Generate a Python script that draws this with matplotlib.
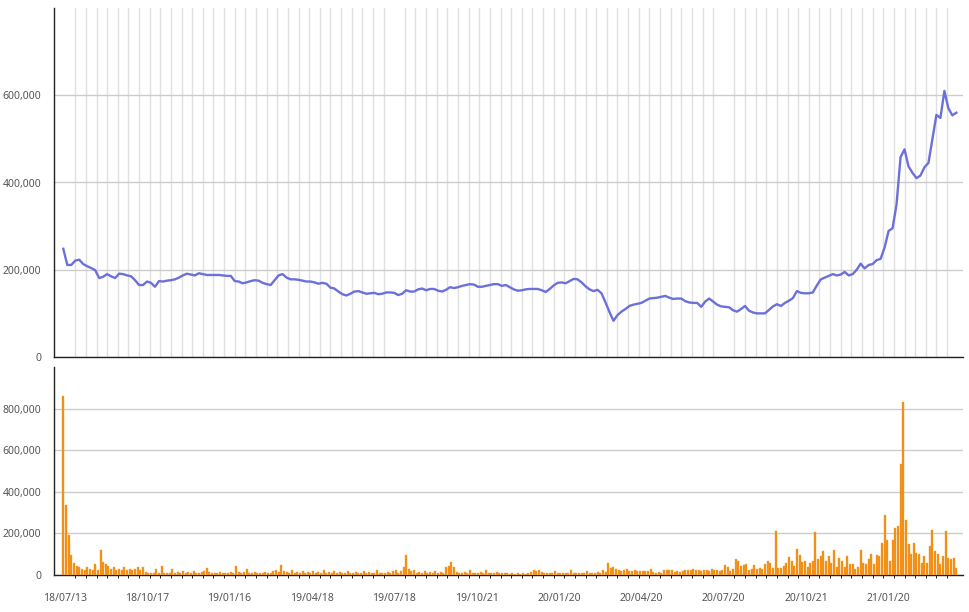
import numpy as np
import matplotlib
matplotlib.use("Agg")
import matplotlib.pyplot as plt
from matplotlib.ticker import FuncFormatter

plt.rcParams['font.family'] = ['Noto Sans', 'DejaVu Sans']

# trading days shown (index on a category axis)
n_days = 673

# closing price, every 3rd trading day (thousands)
price = [248, 211, 211, 221, 223, 213, 208, 204, 199, 181,
         184, 190, 185, 181, 191, 190, 187, 185, 176, 165,
         165, 173, 170, 161, 174, 173, 175, 176, 178, 182,
         187, 191, 189, 187, 192, 190, 188, 188, 188, 188,
         187, 186, 186, 174, 173, 169, 171, 174, 176, 175,
         170, 167, 165, 176, 187, 190, 182, 178, 178, 177,
         175, 173, 173, 171, 168, 170, 168, 159, 157, 150,
         144, 141, 145, 150, 151, 148, 145, 146, 147, 144,
         145, 148, 148, 147, 142, 145, 153, 150, 150, 155,
         157, 153, 156, 156, 152, 150, 154, 160, 158, 160,
         163, 165, 167, 166, 161, 161, 163, 165, 167, 167,
         163, 165, 160, 155, 152, 153, 155, 156, 156, 156,
         153, 149, 156, 164, 170, 171, 169, 174, 179, 178,
         171, 162, 155, 151, 154, 146, 125, 103, 83, 96,
         104, 110, 117, 120, 122, 124, 129, 134, 135, 136,
         138, 140, 136, 133, 134, 134, 128, 125, 124, 124,
         115, 127, 134, 127, 120, 116, 115, 114, 107, 104,
         110, 117, 106, 102, 100, 100, 100, 108, 116, 121,
         117, 124, 129, 135, 151, 147, 146, 146, 148, 164,
         178, 182, 186, 190, 187, 189, 195, 187, 190, 200,
         214, 203, 211, 213, 222, 225, 251, 289, 295, 350,
         458, 476, 437, 422, 410, 416, 435, 445, 500, 555,
         548, 610, 570, 554, 560]

# volume, every 2nd trading day (thousands)
volume = [860, 337, 193, 96, 60, 45, 40, 30, 24, 37,
          30, 24, 53, 24, 120, 62, 53, 45, 30, 37,
          24, 30, 24, 37, 22, 30, 24, 30, 37, 22,
          37, 15, 10, 12, 10, 28, 12, 43, 10, 12,
          10, 28, 10, 15, 10, 20, 10, 15, 10, 20,
          12, 10, 15, 20, 33, 15, 10, 12, 10, 15,
          10, 12, 10, 15, 12, 43, 15, 12, 15, 28,
          12, 10, 15, 10, 12, 10, 15, 10, 12, 20,
          24, 15, 50, 20, 15, 12, 22, 12, 15, 10,
          20, 12, 15, 10, 20, 12, 15, 10, 22, 12,
          15, 10, 20, 12, 15, 10, 12, 20, 12, 10,
          15, 10, 12, 20, 10, 15, 12, 10, 22, 10,
          12, 10, 15, 12, 20, 25, 12, 20, 37, 96,
          30, 20, 25, 12, 15, 10, 20, 12, 15, 10,
          20, 12, 15, 12, 40, 43, 61, 40, 15, 12,
          10, 15, 12, 22, 10, 12, 10, 15, 12, 24,
          10, 12, 10, 15, 10, 12, 10, 8, 6, 8,
          5, 8, 6, 8, 5, 10, 15, 22, 18, 22,
          15, 10, 12, 8, 10, 20, 10, 12, 8, 10,
          12, 25, 10, 12, 10, 8, 12, 20, 10, 12,
          10, 15, 12, 22, 15, 60, 35, 40, 30, 22,
          20, 25, 30, 20, 18, 22, 17, 20, 17, 20,
          17, 30, 15, 12, 15, 12, 22, 25, 22, 25,
          15, 18, 15, 20, 25, 22, 25, 30, 22, 25,
          20, 25, 25, 20, 30, 22, 22, 18, 25, 50,
          40, 20, 30, 79, 67, 43, 50, 51, 25, 27,
          48, 27, 35, 27, 51, 67, 59, 35, 212, 35,
          35, 43, 59, 87, 67, 43, 127, 96, 64, 67,
          40, 59, 67, 207, 75, 92, 116, 67, 92, 59,
          119, 40, 84, 67, 40, 92, 51, 51, 30, 40,
          119, 59, 51, 75, 100, 51, 96, 92, 156, 287,
          167, 67, 167, 228, 236, 533, 830, 263, 148, 100,
          156, 108, 100, 59, 92, 59, 140, 215, 116, 100,
          55, 92, 212, 84, 75, 84, 35]

date_labels = ['18/07/13', '18/10/17', '19/01/16', '19/04/18', '19/07/18', '19/10/21',
               '20/01/20', '20/04/20', '20/07/20', '20/10/21', '21/01/20']

price_x = np.arange(0, n_days, 3)
volume_x = np.arange(0, n_days, 2)
price_v = np.array(price) * 1000
volume_v = np.array(volume) * 1000

fig = plt.figure(figsize=(9.69, 6.12), dpi=100)
ax1 = fig.add_axes([54 / 969, 1 - 357 / 612, 909 / 969, 349 / 612])
ax2 = fig.add_axes([54 / 969, 1 - 575 / 612, 909 / 969, 208 / 612], sharex=ax1)

fmt = FuncFormatter(lambda v, p: f'{int(v):,}')

# price panel
ax1.plot(price_x, price_v, color='#6c70d9', linewidth=1.7, zorder=3)
ax1.set_ylim(0, 800000)
ax1.set_yticks([0, 200000, 400000, 600000])
ax1.yaxis.set_major_formatter(fmt)
ax1.set_xticks(np.arange(1, n_days, 8), minor=True)
ax1.grid(True, axis='y', color='#cccccc', linewidth=1)
ax1.grid(True, axis='x', which='minor', color='#e0e0e0', linewidth=1)
ax1.tick_params(axis='x', which='both', length=0, labelbottom=False)

# volume panel
ax2.bar(volume_x, volume_v, width=1.5, color='#f5890f', edgecolor='#eaa83a',
        linewidth=0.3, zorder=3)
ax2.set_ylim(0, 1000000)
ax2.set_yticks([0, 200000, 400000, 600000, 800000])
ax2.yaxis.set_major_formatter(fmt)
ax2.grid(True, axis='y', color='#cccccc', linewidth=1)
ax2.set_xticks(np.arange(1, n_days, 62)[:len(date_labels)])
ax2.set_xticklabels(date_labels)
ax2.tick_params(axis='x', length=0, pad=13)

ax1.set_xlim(-7, 672 + 5)

for ax in (ax1, ax2):
    ax.set_axisbelow(True)
    for s in ('top', 'right'):
        ax.spines[s].set_visible(False)
    for s in ('left', 'bottom'):
        ax.spines[s].set_color('#222222')
        ax.spines[s].set_linewidth(1)
    ax.tick_params(axis='y', length=0, pad=9, labelsize=7.5, labelcolor='#555555')
    ax.tick_params(axis='x', labelsize=7.5, labelcolor='#555555')

fig.savefig('out.png', dpi=100)
